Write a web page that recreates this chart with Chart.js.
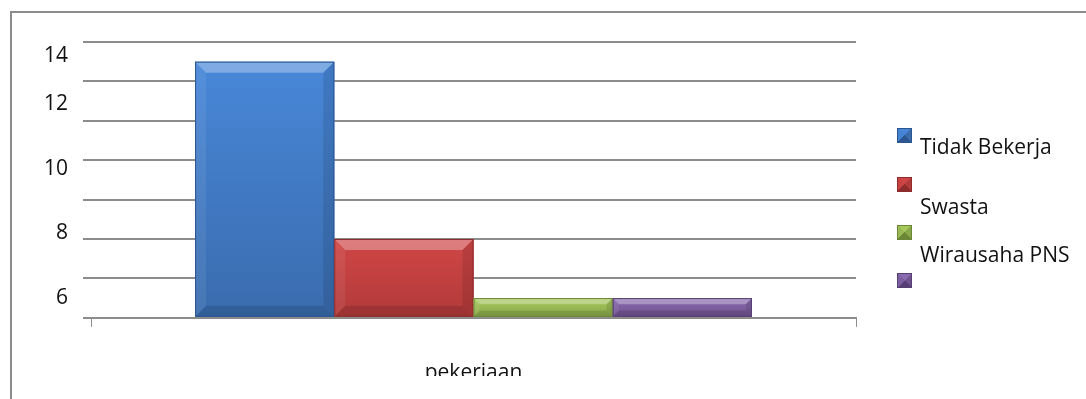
<!DOCTYPE html>
<html>
<head>
<meta charset="utf-8">
<script src="https://cdn.jsdelivr.net/npm/chart.js@4/dist/chart.umd.min.js"></script>
<style>
  html, body { margin: 0; padding: 0; background: #fff; width: 1086px; height: 399px; overflow: hidden; font-family: "Open Sans", sans-serif; }
  #frame { position: absolute; left: 10px; top: 11px; width: 1076px; height: 388px; border-left: 2px solid #8c8c8c; border-top: 2px solid #8c8c8c; }
  #clip { position: absolute; left: 0; top: 0; width: 1086px; height: 376px; overflow: hidden; }
  canvas { position: absolute; left: 0; top: 0; }
  .mk { position: absolute; left: 897px; width: 15px; height: 15px; box-sizing: border-box; }
  .lt { position: absolute; left: 920px; font-size: 21px; line-height: 25px; color: #111; white-space: nowrap; }
</style>
</head>
<body>
<div id="frame"></div>
<div id="clip"><canvas id="chart" width="1086" height="399"></canvas></div>
<div id="legend"></div>
<script>
const CATEGORIES = ["pekerjaan"];
const SERIES = ["Tidak Bekerja", "Swasta", "Wirausaha", "PNS"];
const VALUES = [13, 4, 1, 1];
// the y labels sit off the gridlines in the original, so they get their own positions
const Y_TICK_LABELS = ["14", "12", "10", "8", "6"];
const Y_TICK_AT = [13.27, 10.87, 7.57, 4.32, 1.02];
const LEGEND_LINES = ["Tidak Bekerja", "Swasta", "Wirausaha PNS"];

const SHADES = [
    { base: "#4383d3", top: "#4887d8", bottom: "#3a6cae", edge: "#2c5690" },
    { base: "#c94242", top: "#d04646", bottom: "#b23a3a", edge: "#8e2c2c" },
    { base: "#98b954", top: "#a6c95c", bottom: "#88a84a", edge: "#6c8638" },
    { base: "#7d5fa1", top: "#8a6bb0", bottom: "#6f528f", edge: "#563f72" },
];

// legend layout (markers and text lines are stacked independently, as in the picture)
const MARK_TOPS = [128, 177, 225, 273];
const LINE_TOPS = [134, 194, 242];

const legend = document.getElementById("legend");
SHADES.forEach((c, i) => {
    const m = document.createElement("div");
    m.className = "mk";
    m.style.top = MARK_TOPS[i] + "px";
    m.style.border = "1px solid " + c.edge;
    m.style.background = `conic-gradient(from -45deg, ${c.top} 0 25%, ${c.bottom} 25% 50%, ${c.edge} 50% 75%, ${c.base} 75% 100%)`;
    legend.appendChild(m);
});
LEGEND_LINES.forEach((t, i) => {
    const d = document.createElement("div");
    d.className = "lt";
    d.style.top = LINE_TOPS[i] + "px";
    d.textContent = t;
    legend.appendChild(d);
});

Chart.defaults.font.family = "'Open Sans', sans-serif";
Chart.defaults.color = "#111";

function poly(ctx, pts, fill) {
    ctx.beginPath();
    pts.forEach(([px, py], k) => k ? ctx.lineTo(px, py) : ctx.moveTo(px, py));
    ctx.closePath();
    ctx.fillStyle = fill;
    ctx.fill();
}

// office-style bevel drawn over each bar, using the bar geometry from the library
const bevel = {
    id: "bevel",
    afterDatasetsDraw(chart) {
        const ctx = chart.ctx;
        chart.data.datasets.forEach((ds, i) => {
            const c = SHADES[i];
            chart.getDatasetMeta(i).data.forEach(bar => {
                const { x, y, base, width } = bar.getProps(["x", "y", "base", "width"], true);
                const l = x - width / 2, r = x + width / 2, t = y, b = base, h = b - t;
                const s = Math.min(11, h / 3);
                ctx.save();
                const g = ctx.createLinearGradient(0, t, 0, b);
                g.addColorStop(0, c.top);
                g.addColorStop(1, c.bottom);
                ctx.fillStyle = g;
                ctx.fillRect(l, t, width, h);
                poly(ctx, [[l, t], [r, t], [r - s, t + s], [l + s, t + s]], "rgba(255,255,255,0.3)");
                poly(ctx, [[l, t], [l + s, t + s], [l + s, b - s], [l, b]], "rgba(255,255,255,0.07)");
                poly(ctx, [[r, t], [r, b], [r - s, b - s], [r - s, t + s]], "rgba(0,0,0,0.1)");
                poly(ctx, [[l, b], [l + s, b - s], [r - s, b - s], [r, b]], "rgba(0,0,0,0.12)");
                ctx.strokeStyle = c.edge;
                ctx.lineWidth = 1;
                ctx.strokeRect(l + 0.5, t + 0.5, width - 1, h - 1);
                ctx.restore();
            });
        });
    },
};

new Chart(document.getElementById("chart"), {
    type: "bar",
    data: {
        labels: CATEGORIES,
        datasets: SERIES.map((name, i) => ({
            label: name,
            data: [VALUES[i]],
            backgroundColor: SHADES[i].base,
            borderWidth: 0,
            categoryPercentage: 0.728,
            barPercentage: 1,
        })),
    },
    options: {
        responsive: false,
        animation: false,
        layout: { padding: { left: 37, right: 230, top: 42, bottom: 13 } },
        plugins: { legend: { display: false }, tooltip: { enabled: false } },
        scales: {
            x: {
                grid: { drawOnChartArea: false, drawTicks: true, tickLength: 9, color: "#8c8c8c", offset: true },
                border: { display: true, color: "#8c8c8c", width: 2 },
                ticks: { display: false },
                title: { display: true, text: "pekerjaan", color: "#111", font: { size: 21 }, padding: { top: 34, bottom: 0 } },
            },
            y: {
                min: 0, max: 14, weight: 0,
                ticks: { display: false, stepSize: 2 },
                grid: { color: "#8c8c8c", lineWidth: 2, tickLength: 8 },
                border: { display: false },
            },
            yLab: {
                position: "left", min: 0, max: 14, weight: 1,
                grid: { display: false },
                border: { display: false },
                afterBuildTicks: axis => { axis.ticks = Y_TICK_AT.map(v => ({ value: v })); },
                ticks: { callback: (v, i) => Y_TICK_LABELS[i], padding: 7, color: "#111", font: { size: 21 } },
            },
        },
    },
    plugins: [bevel],
});
</script>
</body>
</html>
